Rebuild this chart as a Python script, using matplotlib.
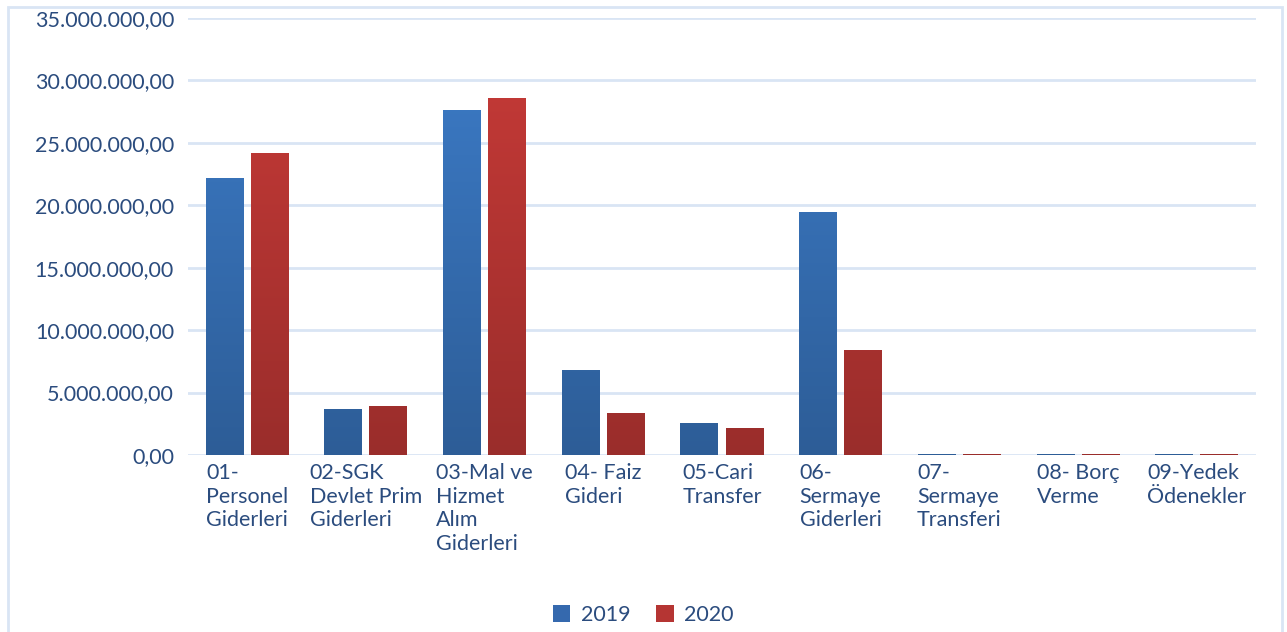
import numpy as np
import matplotlib
matplotlib.use("Agg")
import matplotlib.pyplot as plt
from matplotlib.patches import Patch, Rectangle
from matplotlib.colors import LinearSegmentedColormap
from matplotlib.ticker import FuncFormatter

plt.rcParams['font.family'] = ['Lato', 'DejaVu Sans']

categories = ["01-\nPersonel\nGiderleri", "02-SGK\nDevlet Prim\nGiderleri",
              "03-Mal ve\nHizmet\nAlım\nGiderleri", "04- Faiz\nGideri",
              "05-Cari\nTransfer", "06-\nSermaye\nGiderleri",
              "07-\nSermaye\nTransferi", "08- Borç\nVerme", "09-Yedek\nÖdenekler"]
v2019 = [22150000, 3680000, 27600000, 6800000, 2560000, 19450000, 90000, 90000, 90000]
v2020 = [24150000, 3920000, 28550000, 3380000, 2170000, 8420000, 90000, 90000, 90000]
years = ["2019", "2020"]

text_col = "#2B4C7E"
grid_col = "#D9E5F4"
blue_top, blue_bot = "#3D7DCA", "#2D5D97"
red_top, red_bot = "#C93B38", "#9A2D2B"

fig = plt.figure(figsize=(12.87, 6.32), dpi=100)
ax = fig.add_axes([0.146, 0.28, 0.83, 0.692])

x = np.arange(len(categories))
w = 0.32
gap = 0.06
b1 = ax.bar(x - (w + gap) / 2, v2019, w, color=blue_top, zorder=2)
b2 = ax.bar(x + (w + gap) / 2, v2020, w, color=red_top, zorder=2)

grad = np.linspace(1, 0, 256).reshape(-1, 1)
for bars, top, bot in [(b1, blue_top, blue_bot), (b2, red_top, red_bot)]:
    cmap = LinearSegmentedColormap.from_list("g", [bot, top])
    for p in bars:
        x0, y0 = p.get_x(), p.get_y()
        x1, y1 = x0 + p.get_width(), y0 + p.get_height()
        im = ax.imshow(grad, cmap=cmap, aspect="auto", extent=[x0, x1, 0, 35000000],
                       zorder=3, interpolation="bilinear")
        im.set_clip_path(p)

ax.set_xlim(-0.5, len(categories) - 0.5)
ax.set_ylim(0, 35000000)
ax.set_yticks(np.arange(0, 35000001, 5000000))


def tr_fmt(v, pos):
    s = f"{v:,.2f}"
    return s.replace(",", "X").replace(".", ",").replace("X", ".")


ax.yaxis.set_major_formatter(FuncFormatter(tr_fmt))
ax.grid(axis="y", color=grid_col, linewidth=2, zorder=0)
ax.set_axisbelow(True)
for s in ax.spines.values():
    s.set_visible(False)
ax.tick_params(axis="both", length=0, labelsize=15.5, labelcolor=text_col)
ax.tick_params(axis="y", pad=10)
ax.set_xticks(x)
ax.set_xticklabels(categories, multialignment="left", linespacing=1.22)
ax.tick_params(axis="x", pad=6)

handles = [Patch(facecolor="#3569AE"), Patch(facecolor="#B53533")]
fig.legend(handles, years, loc="center", bbox_to_anchor=(0.5, 0.027), ncol=2, frameon=False,
           fontsize=15.5, labelcolor=text_col, handlelength=0.8, handleheight=0.8,
           handletextpad=0.5, columnspacing=1.2)

fig.patches.append(Rectangle((8 / 1287, -0.05), 1274 / 1287, 1 - 7 / 632 + 0.05,
                             transform=fig.transFigure, fill=False,
                             edgecolor=grid_col, linewidth=2))

fig.savefig("out.png", dpi=100)
